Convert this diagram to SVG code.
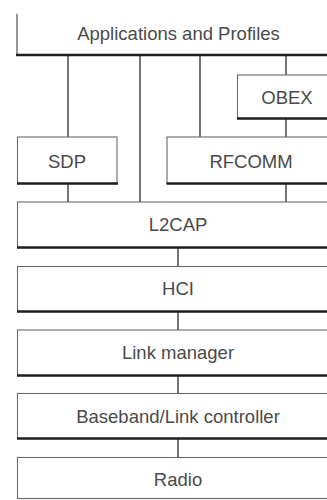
<svg xmlns="http://www.w3.org/2000/svg" width="327" height="500" viewBox="0 0 327 500">
<style>
.box{fill:#fff;stroke:#6a6a6a;stroke-width:1.1}
.base{stroke:#1e1e1e;stroke-width:2.6;fill:none}
.lbl{font-family:"Liberation Sans",Arial,sans-serif;font-size:18.5px;fill:#4a4a4a;text-anchor:middle}
.con{stroke:#3a3a3a;stroke-width:1.4;fill:none}
</style>
<rect width="327" height="500" fill="#fff"/>
<g id="connectors">
<line class="con" x1="68" y1="56" x2="68" y2="137"/>
<line class="con" x1="68" y1="184" x2="68" y2="202"/>
<line class="con" x1="140" y1="56" x2="140" y2="202"/>
<line class="con" x1="200" y1="56" x2="200" y2="137"/>
<line class="con" x1="286" y1="56" x2="286" y2="75"/>
<line class="con" x1="286" y1="119" x2="286" y2="137"/>
<line class="con" x1="286" y1="184" x2="286" y2="202"/>
<line class="con" x1="178" y1="248" x2="178" y2="266"/>
<line class="con" x1="178" y1="312" x2="178" y2="330"/>
<line class="con" x1="178" y1="376" x2="178" y2="393"/>
<line class="con" x1="178" y1="439" x2="178" y2="457"/>
</g>
<g id="apps">
<path d="M17,14 V55" stroke="#6a6a6a" stroke-width="1.4" fill="none"/>
<line class="base" x1="16" y1="55" x2="340" y2="55"/>
<text class="lbl" x="178.5" y="39.5">Applications and Profiles</text>
</g>
<g id="obex">
<rect class="box" x="237.5" y="75" width="110" height="43.5"/>
<line class="base" x1="237" y1="118.5" x2="340" y2="118.5"/>
<text class="lbl" x="287" y="103.5">OBEX</text>
</g>
<g id="sdp">
<rect class="box" x="17.5" y="137" width="99.5" height="46.5"/>
<line class="base" x1="17" y1="183.5" x2="118" y2="183.5"/>
<text class="lbl" x="67" y="168">SDP</text>
</g>
<g id="rfcomm">
<rect class="box" x="167" y="137" width="180" height="46.5"/>
<line class="base" x1="166.5" y1="183.5" x2="340" y2="183.5"/>
<text class="lbl" x="251" y="168">RFCOMM</text>
</g>
<g id="l2cap">
<rect class="box" x="17.5" y="202" width="330" height="45.5"/>
<line class="base" x1="17" y1="247.5" x2="340" y2="247.5"/>
<text class="lbl" x="178" y="231">L2CAP</text>
</g>
<g id="hci">
<rect class="box" x="17.5" y="266.5" width="330" height="45"/>
<line class="base" x1="17" y1="311.5" x2="340" y2="311.5"/>
<text class="lbl" x="178" y="295">HCI</text>
</g>
<g id="linkmanager">
<rect class="box" x="17.5" y="330" width="330" height="45.5"/>
<line class="base" x1="17" y1="375.5" x2="340" y2="375.5"/>
<text class="lbl" x="178" y="359">Link manager</text>
</g>
<g id="baseband">
<rect class="box" x="17.5" y="393.5" width="330" height="45"/>
<line class="base" x1="17" y1="438.5" x2="340" y2="438.5"/>
<text class="lbl" x="178" y="422.5">Baseband/Link controller</text>
</g>
<g id="radio">
<rect class="box" x="17.5" y="457.5" width="330" height="41"/>
<text class="lbl" x="178" y="486">Radio</text>
</g>
</svg>
